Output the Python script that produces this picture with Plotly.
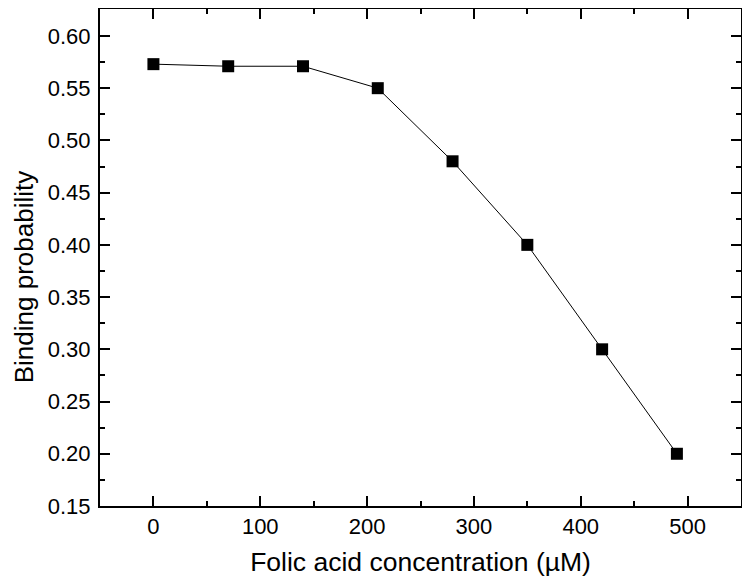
import plotly.graph_objects as go

concentration = [0, 70, 140, 210, 280, 350, 420, 490]
binding_probability = [0.573, 0.571, 0.571, 0.550, 0.480, 0.400, 0.300, 0.200]
x_tick_vals = [0, 100, 200, 300, 400, 500]
y_tick_vals = [0.15, 0.20, 0.25, 0.30, 0.35, 0.40, 0.45, 0.50, 0.55, 0.60]
y_tick_text = ["%.2f" % v for v in y_tick_vals]

fig = go.Figure()
fig.add_trace(go.Scatter(
    x=concentration, y=binding_probability, mode="lines+markers",
    line=dict(color="black", width=1),
    marker=dict(symbol="square", size=12, color="black"),
    showlegend=False,
))

font = dict(family="Liberation Sans, Arial, sans-serif", color="black")
axis_common = dict(
    showline=True, linecolor="black", linewidth=2, mirror="ticks",
    ticks="inside", ticklen=10, tickwidth=2, tickcolor="black",
    showgrid=False, zeroline=False, automargin=False,
)
fig.update_xaxes(
    range=[-50, 550], tickvals=x_tick_vals,
    tickfont=dict(size=22, **font),
    minor=dict(ticks="inside", ticklen=5, tickwidth=2, tickcolor="black", dtick=50, tick0=0, showgrid=False),
    title=dict(text="Folic acid concentration (µM)", font=dict(size=26.5, **font), standoff=14),
    **axis_common,
)
fig.update_yaxes(
    range=[0.15, 0.6258], tickvals=y_tick_vals, ticktext=y_tick_text,
    tickfont=dict(size=22, **font),
    minor=dict(ticks="inside", ticklen=5, tickwidth=2, tickcolor="black", dtick=0.025, tick0=0.15, showgrid=False),
    ticklabelstandoff=3,
    **axis_common,
)
# Y-axis title sits slightly below the axis centre in the reference, so place it as an annotation.
fig.add_annotation(
    text="Binding probability", textangle=-90,
    xref="paper", yref="paper", x=-0.118, y=0.461,
    xanchor="center", yanchor="middle", showarrow=False,
    borderpad=0,
    font=dict(size=26, **font),
)
# The page body adds an 8px margin, so the figure is sized to fit the window after that offset.
fig.update_layout(
    width=742, height=577,
    margin=dict(l=92, r=9, t=1, b=79),
    paper_bgcolor="white", plot_bgcolor="white",
)
fig.write_html("out.html")
